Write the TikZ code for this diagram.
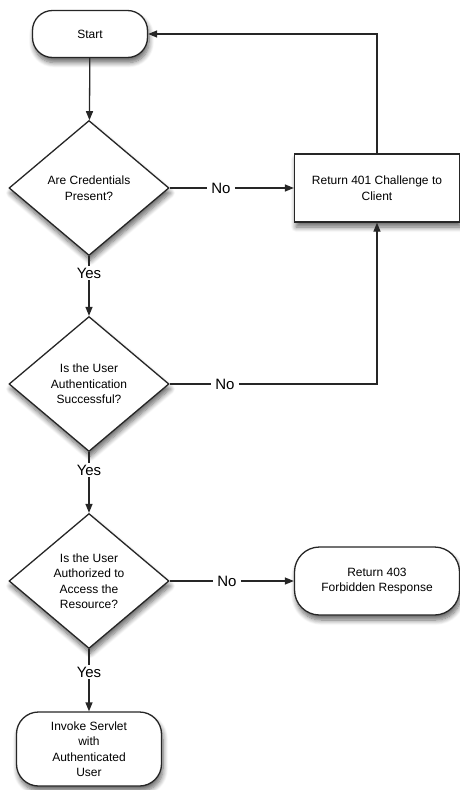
\documentclass[tikz,border=0pt]{standalone}
\usepackage{fontspec}
\setmainfont{Liberation Sans}
\usetikzlibrary{shapes.geometric,arrows.meta,shadows.blur}
\begin{document}
\begin{tikzpicture}[x=1pt,y=-1pt,
  base/.style={draw=black!85, line width=1.3pt, fill=white, align=center,
    font=\fontsize{12}{15.5}\selectfont, inner sep=0pt,
    blur shadow={shadow xshift=1.5pt, shadow yshift=-5pt, shadow blur steps=8, shadow blur radius=5pt, shadow opacity=60}},
  roundbox/.style={base, rectangle, rounded corners=#1},
  sqbox/.style={base, rectangle},
  decision/.style={base, diamond, minimum width=160pt, minimum height=135pt, aspect=1.185},
  lbl/.style={font=\fontsize{15}{18}\selectfont, inner xsep=4pt, inner ysep=2pt},
  line/.style={draw=black!85, line width=1.3pt},
  arr/.style={line, -{Triangle[length=9pt,width=7pt]}}
]
\useasboundingbox (0,0) rectangle (460,790);

\node[roundbox=20pt, minimum width=115pt, minimum height=47pt] (start) at (90,34) {Start};
\node[decision] (d1) at (89,188) {Are Credentials\\Present?};
\node[sqbox, minimum width=165pt, minimum height=68pt] (r401) at (377,188) {Return 401 Challenge to\\Client};
\node[decision] (d2) at (89,384) {Is the User\\Authentication\\Successful?};
\node[decision] (d3) at (89,581) {Is the User\\Authorized to\\Access the\\Resource?};
\node[roundbox=25pt, minimum width=165pt, minimum height=68pt] (r403) at (377,581) {Return 403\\Forbidden Response};
\node[roundbox=22pt, minimum width=145pt, minimum height=74pt] (inv) at (89,749) {Invoke Servlet\\with\\Authenticated\\User};

\node[lbl] (y1) at (89,273) {Yes};
\node[lbl] (y2) at (89,470) {Yes};
\node[lbl] (y3) at (89,672) {Yes};
\node[lbl] (n1) at (221,188) {No};
\node[lbl] (n2) at (225,384) {No};
\node[lbl] (n3) at (227,581) {No};

\draw[arr] (start) -- (d1);
\draw[line] (d1) -- (y1);
\draw[arr] (y1) -- (d2);
\draw[line] (d1) -- (n1);
\draw[arr] (n1) -- (r401);
\draw[arr] (r401) |- (start);
\draw[line] (d2) -- (n2);
\draw[arr] (n2) -| (r401);
\draw[line] (d2) -- (y2);
\draw[arr] (y2) -- (d3);
\draw[line] (d3) -- (n3);
\draw[arr] (n3) -- (r403);
\draw[line] (d3) -- (y3);
\draw[arr] (y3) -- (inv);
\end{tikzpicture}
\end{document}
